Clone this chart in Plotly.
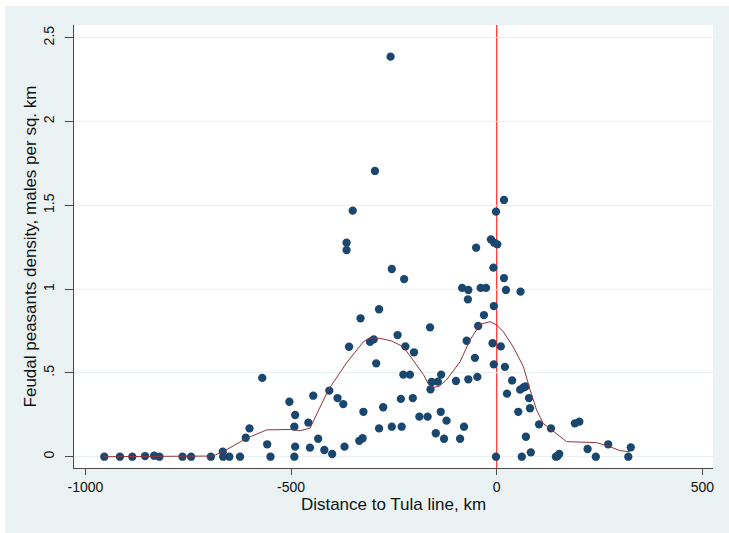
import plotly.graph_objects as go

# Scatter data: distance to Tula line (km) and feudal peasant density
dist_km = [
    -954, -916, -886, -855, -833, -820, -764, -743, -695, -666, -665, -650, -624,
    -610, -601, -570, -558, -550,
    -504, -490, -492, -490, -492,
    -458, -446, -454, -434, -419, -400,
    -407, -387, -373, -370,
    -365, -365, -359, -350,
    -331, -324, -334, -326,
    -308, -299, -293, -296, -286, -286,
    -276, -258, -255, -255, -241, -233, -231, -227, -225, -222, -211, -204, -201,
    -188, -168, -162, -161, -158, -143, -148, -136, -135, -128, -122,
    -99, -89, -84, -79.5, -73, -70, -69, -69, -53, -50, -47, -45, -39, -31, -26,
    -14, -10, -8, -7, -7, -6, -1.7, -1.7, 1.5, 10, 17.7, 17.7, 20, 22.6, 25, 37.5,
    52.5, 57, 58, 61, 65, 70, 71, 78.5, 81, 83, 103, 132, 144, 148, 152,
    190, 201, 221, 241, 271, 320, 326,
]
density = [
    0, 0, 0, 0.004, 0.006, 0, 0, 0, 0, 0.03, 0, 0, 0,
    0.113, 0.169, 0.47, 0.074, 0,
    0.328, 0.249, 0.179, 0.06, 0,
    0.203, 0.364, 0.054, 0.107, 0.04, 0.016,
    0.394, 0.35, 0.314, 0.06,
    1.277, 1.233, 0.656, 1.468,
    0.826, 0.268, 0.095, 0.11,
    0.685, 0.70, 0.557, 1.705, 0.88, 0.169,
    0.295, 2.387, 1.12, 0.179, 0.726, 0.345, 0.179, 0.49, 1.06, 0.658, 0.49, 0.35, 0.623,
    0.239, 0.239, 0.772, 0.402, 0.446, 0.448, 0.14, 0.268, 0.49, 0.107, 0.215,
    0.452, 0.107, 1.007, 0.179, 0.692, 0.939, 0.995, 0.462, 0.59, 1.247, 0.476, 0.78, 1.007, 0.845, 1.007,
    1.297, 0.677, 1.128, 0.899, 0.551, 1.277, 1.462, 0, 1.267, 0.658, 1.532, 1.066, 0.536, 0.995, 0.376, 0.455,
    0.268, 0.40, 0.985, 0, 0.413, 0.419, 0.119, 0.35, 0.289, 0.026, 0.193, 0.169, 0, 0.004, 0.016,
    0.199, 0.209, 0.046, 0, 0.074, 0, 0.056,
]

# Smoothed fit
smooth_x = [-955, -690, -665, -608, -559, -494, -478, -454, -409, -365, -324, -308,
            -284, -255, -227, -203, -178, -165, -154, -140, -122, -89, -65, -40, -16,
            0, 16, 40, 65, 81, 97, 113, 138, 170, 243, 275, 300, 324]
smooth_y = [0.0, 0.004, 0.03, 0.11, 0.16, 0.163, 0.155, 0.17, 0.40, 0.56, 0.686, 0.71,
            0.706, 0.69, 0.656, 0.577, 0.49, 0.43, 0.414, 0.42, 0.458, 0.567, 0.696, 0.79, 0.806,
            0.786, 0.746, 0.656, 0.537, 0.40, 0.279, 0.199, 0.149, 0.09, 0.084, 0.06, 0.036, 0.03]

x_tick_vals = [-1000, -500, 0, 500]
x_tick_text = ["-1000", "-500", "0", "500"]
y_tick_vals = [0, 0.5, 1, 1.5, 2, 2.5]
y_tick_text = ["0", ".5", "1", "1.5", "2", "2.5"]

BG = "#eaf2f3"
AX = "#4a4a4a"
FONT = "Liberation Sans, Arial, sans-serif"

fig = go.Figure()
fig.add_trace(go.Scatter(
    x=dist_km, y=density, mode="markers",
    marker=dict(color="#1a476f", size=8.3, line=dict(width=0)),
    showlegend=False, hoverinfo="skip",
))
fig.add_trace(go.Scatter(
    x=smooth_x, y=smooth_y, mode="lines",
    line=dict(color="#90353b", width=1),
    showlegend=False, hoverinfo="skip",
))

L, R, T, B = 74, 16, 25, 65
W, H = 729, 533
pw, ph = W - L - R, H - T - B

def px_x(p):
    return (p - L) / pw

def px_y(p):
    return (H - B - p) / ph

fig.add_shape(type="rect", xref="paper", yref="paper",
              x0=px_x(5), x1=px_x(760), y0=px_y(6), y1=px_y(560),
              fillcolor=BG, line=dict(width=0), layer="below")
fig.add_shape(type="rect", xref="paper", yref="paper",
              x0=0, x1=1, y0=0, y1=1,
              fillcolor="white", line=dict(width=0), layer="below")
fig.add_shape(type="line", xref="x", yref="paper", x0=0, x1=0, y0=0, y1=1,
              line=dict(color="#ff3a3a", width=1.3), layer="below")

fig.update_layout(
    width=W, height=H,
    margin=dict(l=L, r=R, t=T, b=B, autoexpand=False),
    paper_bgcolor="white",
    plot_bgcolor="rgba(0,0,0,0)",
    font=dict(family=FONT, color="#111111"),
    xaxis=dict(
        range=[-1027.7, 525.9],
        automargin=False,
        tickvals=x_tick_vals, ticktext=x_tick_text,
        ticks="outside", ticklen=6, tickwidth=1, tickcolor=AX,
        showline=True, linecolor=AX, linewidth=1.2,
        showgrid=False, zeroline=False,
        tickfont=dict(size=14, family=FONT, color="#111111"),
        title=dict(text="Distance to Tula line, km", font=dict(size=17, family=FONT, color="#111111"), standoff=2),
    ),
    yaxis=dict(
        range=[-0.0674, 2.576],
        automargin=False,
        tickvals=y_tick_vals, ticktext=y_tick_text,
        tickangle=-90,
        ticklabelstandoff=5,
        ticks="outside", ticklen=8, tickwidth=1, tickcolor=AX,
        showline=True, linecolor=AX, linewidth=1.2,
        showgrid=True, gridcolor="#e8f0f0", gridwidth=1,
        zeroline=False,
        tickfont=dict(size=14, family=FONT, color="#111111"),
        title=dict(text="Feudal peasants density, males per sq. km", font=dict(size=17, family=FONT, color="#111111"), standoff=0),
    ),
)

fig.write_html("out.html", config={"displayModeBar": False},
               post_script="document.body.style.margin='0';")
